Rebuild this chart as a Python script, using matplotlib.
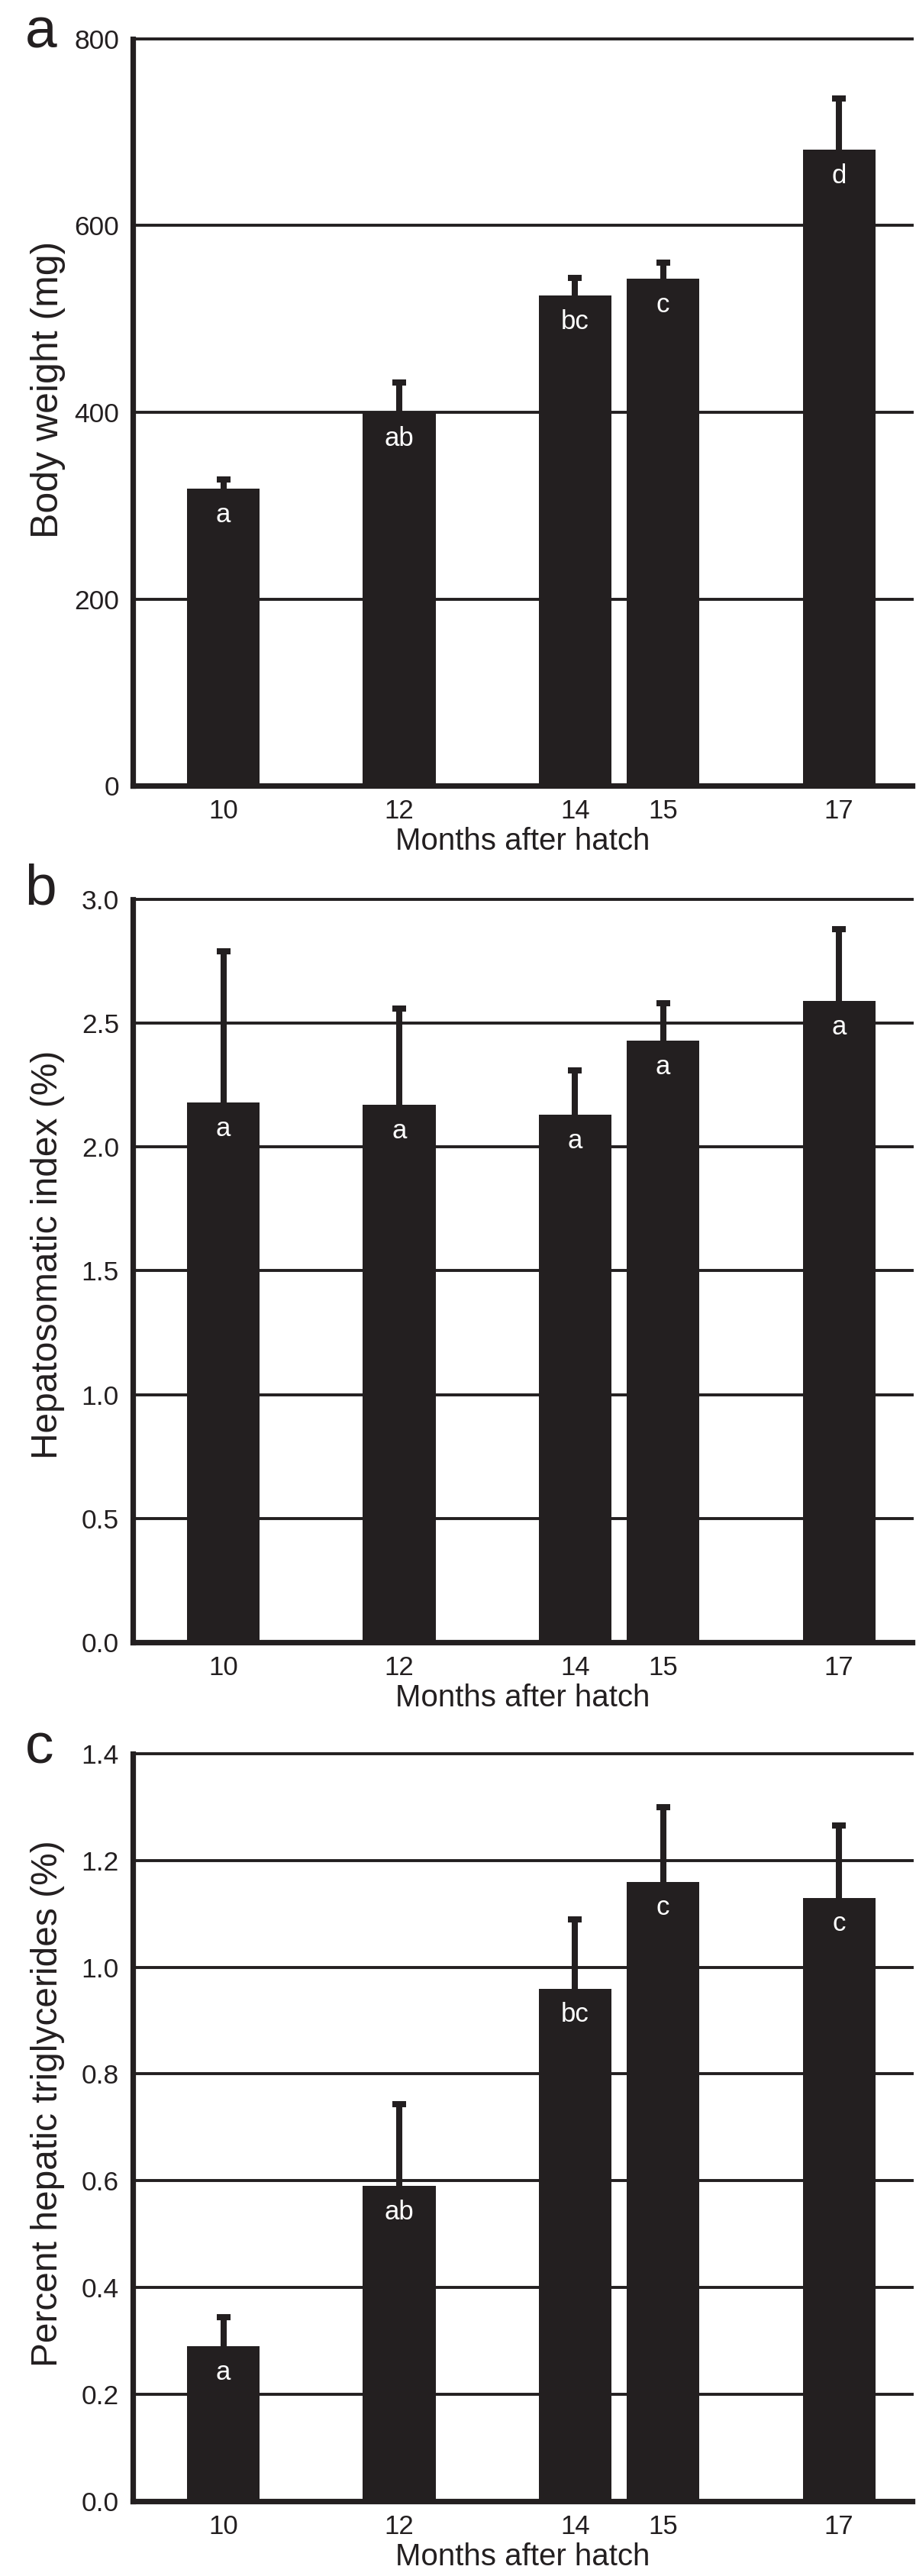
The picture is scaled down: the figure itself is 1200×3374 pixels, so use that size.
import matplotlib
matplotlib.use("Agg")
import matplotlib.pyplot as plt
import numpy as np

plt.rcParams["font.family"] = ["Liberation Sans", "DejaVu Sans"]

INK = "#231f20"

months = [10, 12, 14, 15, 17]

body_weight = [318, 400, 525, 543, 681]
body_weight_err = [10, 32, 19, 17, 55]
body_weight_letters = ["a", "ab", "bc", "c", "d"]

hsi = [2.18, 2.17, 2.13, 2.43, 2.59]
hsi_err = [0.61, 0.39, 0.18, 0.15, 0.29]
hsi_letters = ["a", "a", "a", "a", "a"]

tg = [0.29, 0.59, 0.96, 1.16, 1.13]
tg_err = [0.055, 0.153, 0.13, 0.14, 0.135]
tg_letters = ["a", "ab", "bc", "c", "c"]

panels = [
    ("a", "Body weight (mg)", body_weight, body_weight_err, body_weight_letters,
     [0, 200, 400, 600, 800], ["0", "200", "400", "600", "800"], 36, 0.53),
    ("b", "Hepatosomatic index (%)", hsi, hsi_err, hsi_letters,
     [0, 0.5, 1.0, 1.5, 2.0, 2.5, 3.0], ["0.0", "0.5", "1.0", "1.5", "2.0", "2.5", "3.0"], 34.5, 0.522),
    ("c", "Percent hepatic triglycerides (%)", tg, tg_err, tg_letters,
     [0, 0.2, 0.4, 0.6, 0.8, 1.0, 1.2, 1.4], ["0.0", "0.2", "0.4", "0.6", "0.8", "1.0", "1.2", "1.4"], 34.5, 0.532),
]

# axes boxes in figure fraction (left, bottom, width, height)
boxes = [
    (0.145, 0.6950, 0.851, 0.2899),
    (0.145, 0.36248, 0.851, 0.2884),
    (0.145, 0.02905, 0.851, 0.2902),
]
letter_y = [0.9816, 0.6488, 0.3154]

fig = plt.figure(figsize=(12, 33.74), dpi=100)

for (tag, ylabel, vals, errs, letters, yticks, ylabels, ylab_size, ylab_y), box, ly in zip(panels, boxes, letter_y):
    ax = fig.add_axes(box)

    # Horizontal grid lines behind the bars
    for t in yticks[1:]:
        ax.axhline(t, color=INK, linewidth=2.8, zorder=1, clip_on=False)

    ax.bar(months, vals, width=0.825, color=INK, zorder=2)

    # upper error bars only
    eb = ax.errorbar(months, vals, yerr=[np.zeros(len(vals)), errs], fmt="none",
                     ecolor=INK, elinewidth=5.8, capsize=6.8, capthick=5.8, zorder=3)
    eb[1][0].set_visible(False)

    # significance letters inside bar tops
    for m, v, s in zip(months, vals, letters):
        ax.annotate(s, (m, v), xytext=(0, -31.5), textcoords="offset points",
                    ha="center", va="baseline", color="white", fontsize=25, zorder=4)

    ax.set_xlim(8.971, 17.834)
    ax.set_ylim(yticks[0], yticks[-1])
    ax.set_xticks(months)
    ax.set_xticklabels([str(m) for m in months])
    ax.set_yticks(yticks)
    ax.set_yticklabels(ylabels)
    ax.tick_params(axis="x", length=0, pad=12, labelsize=25, labelcolor=INK)
    ax.tick_params(axis="y", length=0, pad=13, labelsize=25.5, labelcolor=INK)

    for side in ["top", "right"]:
        ax.spines[side].set_visible(False)
    for side in ["left", "bottom"]:
        ax.spines[side].set_linewidth(5.2)
        ax.spines[side].set_color(INK)
        ax.spines[side].set_zorder(5)

    ax.set_ylabel(ylabel, fontsize=ylab_size, color=INK, va="center")
    ax.yaxis.set_label_coords(-0.109, ylab_y)
    ax.set_xlabel("Months after hatch", fontsize=29, color=INK, labelpad=3)

    fig.text(0.027, ly, tag, fontsize=54, color=INK, ha="left", va="baseline")

fig.savefig("out.png", dpi=100)
